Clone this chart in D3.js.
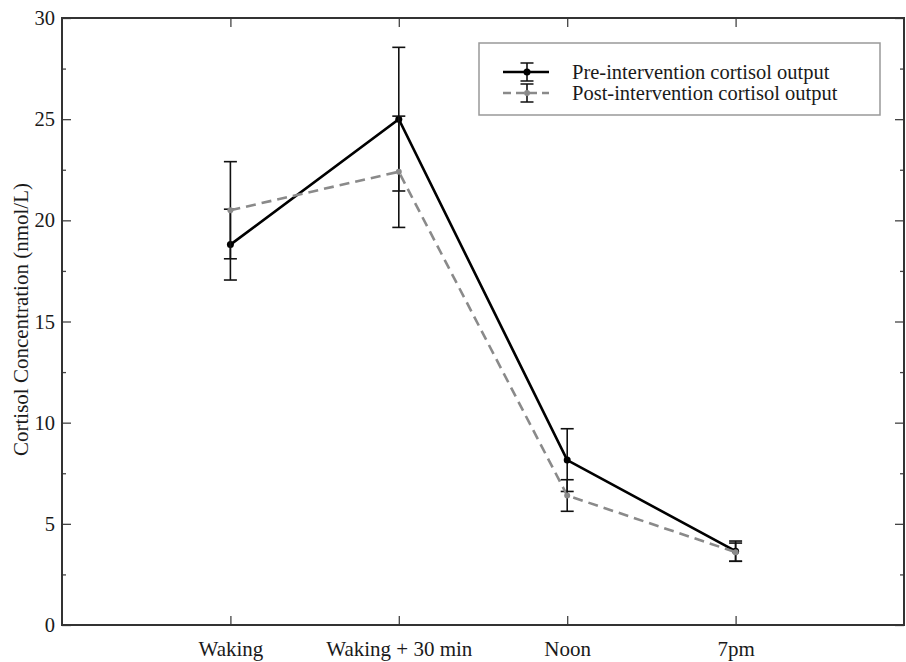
<!DOCTYPE html>
<html>
<head>
<meta charset="utf-8">
<script src="https://d3js.org/d3.v7.min.js"></script>
<style>
    body { margin: 0; background: #fff; }
    text { font-family: "Liberation Serif", "Times New Roman", Times, serif; }
</style>
</head>
<body>
<script>
// data
var categories = ["Waking", "Waking + 30 min", "Noon", "7pm"];
var preValues = [18.8, 25.0, 8.15, 3.65];
var preErrors = [1.75, 3.55, 1.55, 0.5];
var postValues = [20.5, 22.4, 6.4, 3.6];
var postErrors = [2.4, 2.75, 0.78, 0.45];
var yMajorTicks = [0, 5, 10, 15, 20, 25, 30];
var yMinorTicks = [2.5, 7.5, 12.5, 17.5, 22.5, 27.5];
var seriesNames = ["Pre-intervention cortisol output", "Post-intervention cortisol output"];

var margin = {top: 18, right: 2, bottom: 37, left: 62};
var w = 906 - margin.left - margin.right;
var h = 662 - margin.top - margin.bottom;

var x = d3.scalePoint()
    .domain(categories)
    .range([0, w])
    .padding(1);

var y = d3.scaleLinear()
    .domain([0, 30])
    .range([h, 0]);

var svg = d3.select("body")
    .append("svg")
    .attr("width", 906)
    .attr("height", 662)
    .append("g")
    .attr("transform", "translate(" + margin.left + "," + margin.top + ")");

// axes, ticks pointing inwards on all four sides
var gx = svg.append("g")
    .attr("transform", "translate(0," + h + ")")
    .call(d3.axisBottom(x).tickSizeInner(-9).tickSizeOuter(0).tickPadding(16));
var gy = svg.append("g")
    .call(d3.axisLeft(y).tickValues(yMajorTicks).tickSizeInner(-9).tickSizeOuter(0).tickPadding(7));
svg.append("g")
    .call(d3.axisLeft(y).tickValues(yMinorTicks).tickSizeInner(-4).tickSizeOuter(0).tickFormat(""));
svg.append("g")
    .call(d3.axisTop(x).tickSizeInner(-9).tickSizeOuter(0).tickFormat(""));
svg.append("g")
    .attr("transform", "translate(" + w + ",0)")
    .call(d3.axisRight(y).tickValues(yMajorTicks).tickSizeInner(-9).tickSizeOuter(0).tickFormat(""));
svg.append("g")
    .attr("transform", "translate(" + w + ",0)")
    .call(d3.axisRight(y).tickValues(yMinorTicks).tickSizeInner(-4).tickSizeOuter(0).tickFormat(""));

svg.selectAll(".domain").remove();
svg.selectAll(".tick line").attr("stroke", "#444").attr("stroke-width", 1.3);
svg.selectAll(".tick text")
    .attr("font-family", "Liberation Serif, Times New Roman, serif")
    .attr("fill", "#1a1a1a");
gx.selectAll(".tick text").attr("font-size", 21);
gy.selectAll(".tick text").attr("font-size", 20.5);

svg.append("rect")
    .attr("width", w)
    .attr("height", h)
    .attr("fill", "none")
    .attr("stroke", "#333")
    .attr("stroke-width", 2);

svg.append("text")
    .attr("transform", "translate(" + (28 - margin.left) + "," + (h / 2 - 2) + ") rotate(-90)")
    .attr("text-anchor", "middle")
    .attr("font-size", 21)
    .attr("fill", "#1a1a1a")
    .text("Cortisol Concentration (nmol/L)");

// series
function drawSeries(values, errors, color, dash, r) {
    var pts = categories.map(function (c, i) {
        return {c: c, v: values[i], e: errors[i]};
    });
    var line = d3.line()
        .x(function (d) { return x(d.c); })
        .y(function (d) { return y(d.v); });

    svg.append("path")
        .datum(pts)
        .attr("d", line)
        .attr("fill", "none")
        .attr("stroke", color)
        .attr("stroke-width", 2.6)
        .attr("stroke-dasharray", dash);

    var eb = svg.append("g")
        .selectAll("g")
        .data(pts)
        .enter()
        .append("g")
        .attr("stroke", "#111")
        .attr("stroke-width", 1.6);
    eb.append("line")
        .attr("x1", function (d) { return x(d.c); })
        .attr("x2", function (d) { return x(d.c); })
        .attr("y1", function (d) { return y(d.v + d.e); })
        .attr("y2", function (d) { return y(d.v - d.e); });
    eb.append("line")
        .attr("x1", function (d) { return x(d.c) - 6.5; })
        .attr("x2", function (d) { return x(d.c) + 6.5; })
        .attr("y1", function (d) { return y(d.v + d.e); })
        .attr("y2", function (d) { return y(d.v + d.e); });
    eb.append("line")
        .attr("x1", function (d) { return x(d.c) - 6.5; })
        .attr("x2", function (d) { return x(d.c) + 6.5; })
        .attr("y1", function (d) { return y(d.v - d.e); })
        .attr("y2", function (d) { return y(d.v - d.e); });

    svg.append("g")
        .selectAll("circle")
        .data(pts)
        .enter()
        .append("circle")
        .attr("cx", function (d) { return x(d.c); })
        .attr("cy", function (d) { return y(d.v); })
        .attr("r", r)
        .attr("fill", color);
}

drawSeries(preValues, preErrors, "#000", null, 3.5);
drawSeries(postValues, postErrors, "#8a8a8a", "10,6", 3);

// legend
var legend = svg.append("g")
    .attr("transform", "translate(" + (479 - margin.left) + "," + (43 - margin.top) + ")");
legend.append("rect")
    .attr("width", 401)
    .attr("height", 72)
    .attr("fill", "#fff")
    .attr("stroke", "#999")
    .attr("stroke-width", 1.5);

var rows = [
    {name: seriesNames[0], color: "#000", dash: null, yy: 29, r: 3.5},
    {name: seriesNames[1], color: "#8a8a8a", dash: "8,5", yy: 50, r: 3}
];
var lg = legend.selectAll(".lg")
    .data(rows)
    .enter()
    .append("g")
    .attr("transform", function (d) { return "translate(0," + d.yy + ")"; });
lg.append("line")
    .attr("x1", 24)
    .attr("x2", 70)
    .attr("stroke", function (d) { return d.color; })
    .attr("stroke-width", 2.6)
    .attr("stroke-dasharray", function (d) { return d.dash; });
lg.append("path")
    .attr("d", "M41.5,-9H54.5M48,-9V9M41.5,9H54.5")
    .attr("stroke", "#111")
    .attr("stroke-width", 1.6);
lg.append("circle")
    .attr("cx", 48)
    .attr("r", function (d) { return d.r; })
    .attr("fill", function (d) { return d.color; });
lg.append("text")
    .attr("x", 93)
    .attr("dy", "0.32em")
    .attr("font-size", 20.5)
    .attr("fill", "#1a1a1a")
    .text(function (d) { return d.name; });
</script>
</body>
</html>
